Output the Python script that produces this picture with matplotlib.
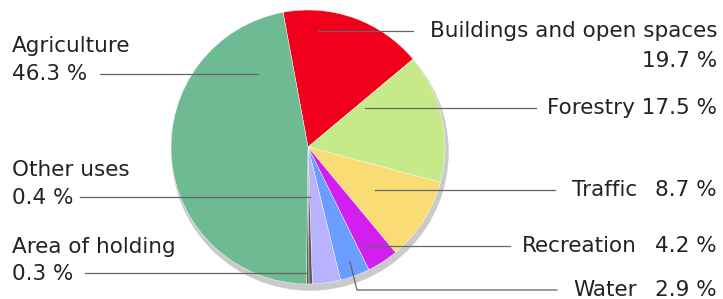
import matplotlib.pyplot as plt
from matplotlib.patches import Circle

# slice shares (percent of the circle)
names = ['Buildings and open spaces', 'Forestry', 'Traffic', 'Recreation',
         'Water', 'unlabelled', 'Other uses', 'Area of holding', 'Agriculture']
shares = [16.8, 15.2, 9.8, 3.7, 3.5, 3.3, 0.4, 0.3, 46.8]
pct_text = ['19.7 %', '17.5 %', '8.7 %', '4.2 %', '2.9 %', '', '0.4 %', '0.3 %', '46.3 %']
colors = ['#f0001a', '#c6ea8a', '#f9dd74', '#d21ff0', '#6b9dff', '#b8b2ff',
          '#5e5e5e', '#5e5e5e', '#6dba93']

W, H = 723, 299
fig = plt.figure(figsize=(W / 100, H / 100), dpi=100)
ax = fig.add_axes([0, 0, 1, 1])

cx, cy, r = 308, 152, 137

# soft shadow under the pie
ax.add_patch(Circle((cx + 2, cy - 5), r + 1, color='#cacaca', zorder=0))

ax.pie(shares, colors=colors, startangle=100.5, counterclock=False,
       center=(cx, cy), radius=r, frame=True,
       wedgeprops=dict(edgecolor='white', linewidth=0.3))
ax.set_xlim(0, W)
ax.set_ylim(0, H)
ax.set_aspect('equal')
ax.axis('off')

fs = 15.5
tc = '#222222'
lc = '#666666'
lw = 0.9

def y(p):
    return H - p

# leader lines
ax.plot([100, 258], [y(74), y(74)], color=lc, lw=lw)
ax.plot([318, 413], [y(31), y(31)], color=lc, lw=lw)
ax.plot([365, 536], [y(108), y(108)], color=lc, lw=lw)
ax.plot([375, 555], [y(190), y(190)], color=lc, lw=lw)
ax.plot([365, 510], [y(246), y(246)], color=lc, lw=lw)
ax.plot([350, 357, 557], [y(262), y(290), y(290)], color=lc, lw=lw)
ax.plot([80, 310], [y(197), y(197)], color=lc, lw=lw)
ax.plot([85, 306], [y(273), y(273)], color=lc, lw=lw)

kw = dict(fontsize=fs, color=tc, va='center')
# left labels
ax.text(12, y(46), names[8], ha='left', **kw)
ax.text(12, y(74), pct_text[8], ha='left', **kw)
ax.text(12, y(170), names[6], ha='left', **kw)
ax.text(12, y(198), pct_text[6], ha='left', **kw)
ax.text(12, y(247), names[7], ha='left', **kw)
ax.text(12, y(274), pct_text[7], ha='left', **kw)

# right labels
ax.text(717, y(31), names[0], ha='right', **kw)
ax.text(717, y(61), pct_text[0], ha='right', **kw)
ax.text(717, y(108), names[1] + ' ' + pct_text[1], ha='right', **kw)
for i, yy in zip([2, 3, 4], [190, 246, 290]):
    ax.text(637, y(yy), names[i], ha='right', **kw)
    ax.text(717, y(yy), pct_text[i], ha='right', **kw)

fig.savefig('out.png', dpi=100, facecolor='white')
